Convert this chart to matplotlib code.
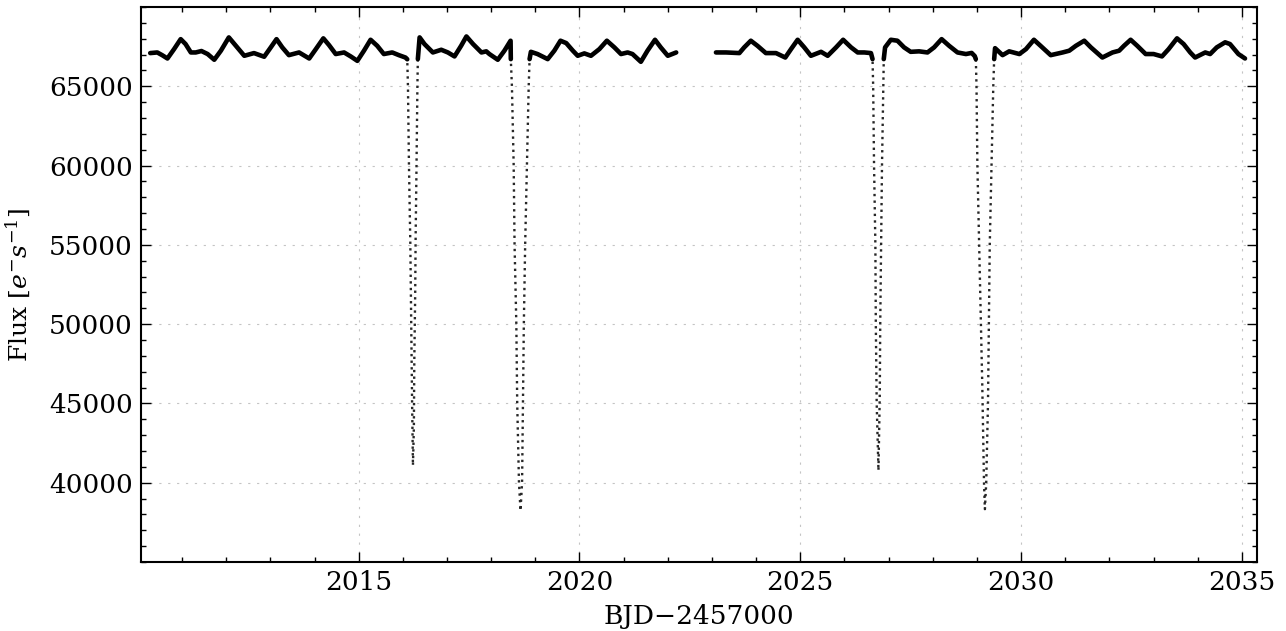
import numpy as np
import matplotlib
matplotlib.use('Agg')
import matplotlib.pyplot as plt
from matplotlib.ticker import MultipleLocator

# light curve (BJD-2457000, flux in e-/s)
bjd = [2010.28, 2010.44, 2010.55, 2010.67, 2010.82, 2010.97, 2011.08, 2011.20, 2011.31, 2011.44,
       2011.58, 2011.73, 2011.88, 2012.06, 2012.22, 2012.41, 2012.63, 2012.86, 2013.01, 2013.14,
       2013.27, 2013.42, 2013.65, 2013.88, 2014.03, 2014.20, 2014.33, 2014.48, 2014.67, 2014.82,
       2014.97, 2015.12, 2015.27, 2015.42, 2015.57, 2015.76, 2015.91, 2016.06, 2016.10,
       2016.116, 2016.139, 2016.17, 2016.19, 2016.21, 2016.229, 2016.25, 2016.26, 2016.28, 2016.29,
       2016.31, 2016.33, 2016.34,
       2016.38, 2016.49, 2016.68, 2016.87, 2017.02, 2017.17, 2017.32, 2017.44, 2017.59, 2017.78,
       2017.89, 2017.96, 2018.15, 2018.30, 2018.44, 2018.445,
       2018.47, 2018.51, 2018.53, 2018.57, 2018.59, 2018.63, 2018.665, 2018.70, 2018.72, 2018.74,
       2018.77, 2018.81, 2018.85, 2018.87,
       2018.90, 2019.05, 2019.28, 2019.43, 2019.57, 2019.70, 2019.85, 2019.96, 2020.11, 2020.26,
       2020.45, 2020.62, 2020.79, 2020.94, 2021.09, 2021.20, 2021.39, 2021.54, 2021.71, 2021.84,
       2022.00, 2022.19,
       2023.09, 2023.32, 2023.62, 2023.73, 2023.88, 2024.03, 2024.22, 2024.45, 2024.66, 2024.79,
       2024.94, 2025.09, 2025.24, 2025.47, 2025.62, 2025.81, 2025.97, 2026.15, 2026.30, 2026.45,
       2026.60, 2026.636,
       2026.65, 2026.67, 2026.70, 2026.71, 2026.73, 2026.77, 2026.80, 2026.81, 2026.83, 2026.85,
       2026.88, 2026.89,
       2026.92, 2027.05, 2027.20, 2027.35, 2027.50, 2027.69, 2027.88, 2028.03, 2028.20, 2028.37,
       2028.56, 2028.75, 2028.88, 2028.95, 2028.975,
       2028.99, 2029.01, 2029.05, 2029.09, 2029.12, 2029.16, 2029.18, 2029.21, 2029.25, 2029.27,
       2029.29, 2029.33, 2029.37, 2029.39,
       2029.41, 2029.58, 2029.73, 2029.96, 2030.11, 2030.29, 2030.44, 2030.67, 2030.94, 2031.09,
       2031.24, 2031.43, 2031.58, 2031.84, 2032.07, 2032.22, 2032.33, 2032.48, 2032.63, 2032.82,
       2033.00, 2033.19, 2033.34, 2033.53, 2033.68, 2033.83, 2033.94, 2034.17, 2034.28, 2034.43,
       2034.62, 2034.73, 2034.92, 2035.07]

flux = [67090, 67130, 66960, 66750, 67340, 67970, 67660, 67130, 67130, 67220,
        67030, 66670, 67240, 68080, 67550, 66920, 67090, 66860, 67450, 67970,
        67450, 66960, 67130, 66750, 67340, 68020, 67590, 67030, 67130, 66880,
        66600, 67240, 67930, 67550, 67030, 67130, 66960, 66810, 66700,
        65000, 60000, 55000, 50000, 45000, 41080, 43500, 47720, 51940, 55530,
        60000, 65000, 66710,
        68080, 67660, 67130, 67300, 67130, 66880, 67550, 68140, 67660, 67130,
        67200, 67030, 66670, 67240, 67870, 66710,
        65000, 60000, 55000, 50000, 45000, 40000, 38230, 40000, 45000, 50000,
        55000, 60000, 65000, 66710,
        67170, 67030, 66710, 67240, 67870, 67720, 67240, 66920, 67070, 66920,
        67340, 67870, 67450, 67030, 67130, 67030, 66540, 67240, 67930, 67450,
        66920, 67130,
        67130, 67130, 67090, 67450, 67870, 67550, 67090, 67090, 66810, 67340,
        67930, 67450, 66920, 67170, 66920, 67450, 67930, 67450, 67130, 67130,
        67090, 66710,
        65000, 60000, 55000, 50000, 45000, 40760, 45610, 50000, 55000, 60000,
        65000, 66710,
        67450, 67930, 67870, 67450, 67170, 67200, 67130, 67450, 67970, 67550,
        67130, 67030, 67100, 66900, 66710,
        65000, 60000, 55000, 50000, 46250, 40000, 38330, 40000, 45000, 50000,
        55000, 60000, 65000, 66710,
        67400, 66960, 67200, 67030, 67340, 67930, 67550, 66960, 67130, 67240,
        67550, 67870, 67450, 66810, 67130, 67240, 67550, 67930, 67550, 67030,
        67030, 66880, 67340, 68020, 67660, 67130, 66810, 67130, 67030, 67450,
        67770, 67660, 67030, 66750]

plt.rcParams['font.family'] = 'serif'
plt.rcParams['font.serif'] = ['DejaVu Serif']
plt.rcParams['mathtext.fontset'] = 'dejavuserif'
plt.rcParams['xtick.direction'] = 'in'
plt.rcParams['ytick.direction'] = 'in'
plt.rcParams['xtick.top'] = True
plt.rcParams['ytick.right'] = True

fig = plt.figure(figsize=(12.86, 6.31), dpi=100)
ax = fig.add_axes([0.1096, 0.1094, 0.8678, 0.8796])

t = np.array(bjd)
f = np.array(flux, dtype=float)
breaks = np.where(np.diff(t) > 0.5)[0] + 1
for ts, fs in zip(np.split(t, breaks), np.split(f, breaks)):
    # eclipses show up as sparse dots, the rest as a dense band
    ax.plot(ts, fs, color='0.15', lw=1.7, ls=(0, (1, 1.8)))
    ax.plot(ts, np.ma.masked_less(fs, 66500), color='k', lw=3.3,
            solid_joinstyle='round', solid_capstyle='round')

ax.set_xlim(2010.07, 2035.34)
ax.set_ylim(35000, 70000)
ax.set_xticks([2015, 2020, 2025, 2030, 2035])
ax.set_yticks([40000, 45000, 50000, 55000, 60000, 65000])
ax.xaxis.set_minor_locator(MultipleLocator(1))
ax.yaxis.set_minor_locator(MultipleLocator(1000))
ax.tick_params(which='major', length=7, width=1, labelsize=19, pad=6)
ax.tick_params(which='minor', length=3.5, width=1)
for s in ax.spines.values():
    s.set_linewidth(1.5)

ax.grid(True, which='major', color='#c4c4c4', ls=(0, (2, 6)), lw=0.8)

ax.set_xlabel('BJD\u22122457000', fontsize=19, labelpad=6)
ax.set_ylabel('Flux [$e^{-}s^{-1}$]', fontsize=18, labelpad=12)

plt.savefig('out.png')
plt.close()
